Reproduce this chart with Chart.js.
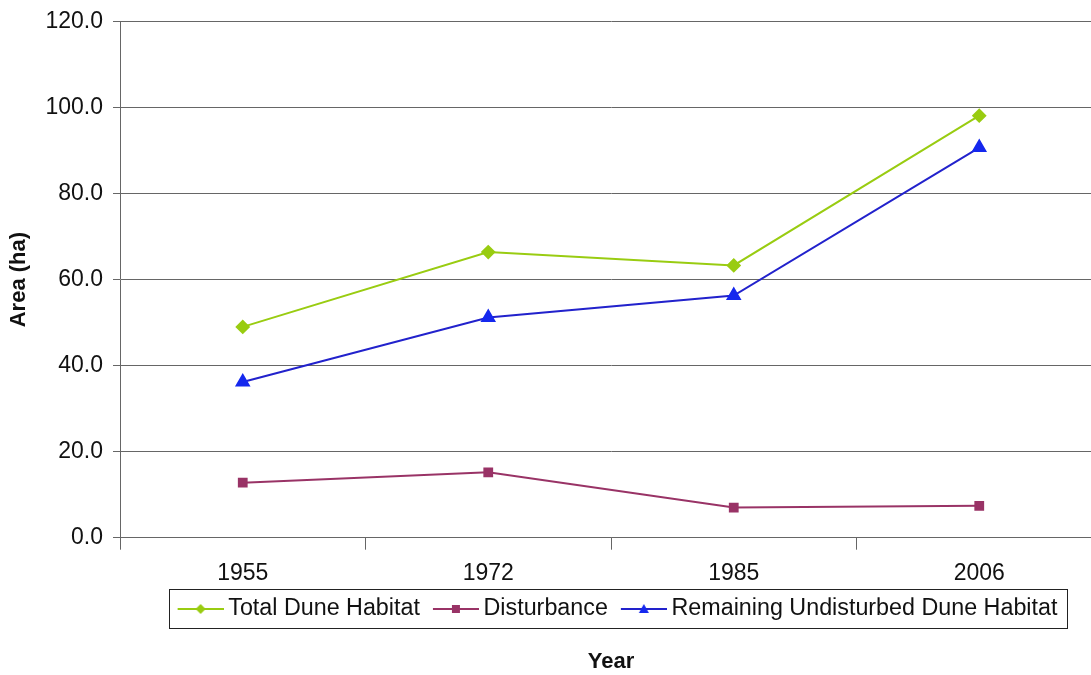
<!DOCTYPE html>
<html>
<head>
<meta charset="utf-8">
<script src="https://cdn.jsdelivr.net/npm/chart.js@4.4.1/dist/chart.umd.min.js"></script>
<style>
  html, body { margin: 0; padding: 0; background: #fff; overflow: hidden; }
  #wrap { width: 1111px; height: 675px; }
</style>
</head>
<body>
<div id="wrap"><canvas id="myChart"></canvas></div>
<script>
const years = ['1955', '1972', '1985', '2006'];
const totalDune = [49.0, 66.4, 63.3, 98.1];
const disturbance = [12.8, 15.2, 7.0, 7.4];
const remaining = [36.2, 51.2, 56.3, 90.7];
const seriesNames = ['Total Dune Habitat', 'Disturbance', 'Remaining Undisturbed Dune Habitat'];

const green = '#99cc11';
const plum = '#993366';
const blueLine = '#2222cc';
const blueMark = '#1528ee';
const font = 'Liberation Sans, Arial, sans-serif';

// legend icons: line with the marker on it, some empty room on the left
function makeIcon(color, mark, shape) {
  const c = document.createElement('canvas');
  c.width = 66; c.height = 14;
  const g = c.getContext('2d');
  const x0 = 20, cx = x0 + 23;
  g.strokeStyle = color; g.lineWidth = 2;
  g.beginPath(); g.moveTo(x0, 7); g.lineTo(x0 + 46, 7); g.stroke();
  g.fillStyle = mark;
  g.beginPath();
  if (shape === 'diamond') {
    g.moveTo(cx, 2); g.lineTo(cx + 5, 7); g.lineTo(cx, 12); g.lineTo(cx - 5, 7);
  } else if (shape === 'square') {
    g.rect(cx - 4, 3, 8, 8);
  } else {
    g.moveTo(cx, 2); g.lineTo(cx + 5, 11); g.lineTo(cx - 5, 11);
  }
  g.closePath(); g.fill();
  return c;
}
const icons = [
  makeIcon(green, green, 'diamond'),
  makeIcon(plum, plum, 'square'),
  makeIcon(blueLine, blueMark, 'triangle')
];

const legendBox = {
  id: 'legendBox',
  afterDraw(chart) {
    const hb = chart.legend.legendHitBoxes;
    if (!hb || !hb.length) return;
    const ctx = chart.ctx;
    const l = Math.min(...hb.map(b => b.left)) + 4;
    const r = Math.max(...hb.map(b => b.left + b.width)) + 9;
    const t = hb[0].top - 8;
    const b = hb[0].top + hb[0].height + 8;
    ctx.save();
    ctx.strokeStyle = '#222';
    ctx.lineWidth = 1;
    ctx.strokeRect(Math.round(l) + 0.5, Math.round(t) + 0.5, Math.round(r - l), Math.round(b - t));
    ctx.restore();
  }
};

const ctx = document.getElementById('myChart');
new Chart(ctx, {
  type: 'line',
  data: {
    labels: years,
    datasets: [{
      label: seriesNames[0],
      data: totalDune,
      borderColor: green,
      backgroundColor: green,
      borderWidth: 2,
      pointStyle: 'rectRot',
      pointRadius: 6,
      pointHoverRadius: 6
    }, {
      label: seriesNames[1],
      data: disturbance,
      borderColor: plum,
      backgroundColor: plum,
      borderWidth: 2,
      pointStyle: 'rect',
      pointRadius: 5.5,
      pointHoverRadius: 5.5
    }, {
      label: seriesNames[2],
      data: remaining,
      borderColor: blueLine,
      backgroundColor: blueMark,
      pointBorderColor: blueMark,
      borderWidth: 2,
      pointStyle: 'triangle',
      pointRadius: 7,
      pointHoverRadius: 7
    }]
  },
  options: {
    responsive: true,
    maintainAspectRatio: false,
    animation: false,
    devicePixelRatio: 1,
    layout: { padding: { left: 0, right: 1, top: 0, bottom: 0 } },
    plugins: {
      tooltip: { enabled: false },
      legend: {
        position: 'bottom',
        fullSize: false,
        labels: {
          usePointStyle: true,
          pointStyleWidth: 52,
          padding: 0,
          color: '#111',
          font: { family: font, size: 23.3 },
          generateLabels(chart) {
            return chart.data.datasets.map((ds, i) => ({
              text: ds.label,
              pointStyle: icons[i],
              datasetIndex: i,
              fillStyle: ds.borderColor,
              strokeStyle: ds.borderColor,
              lineWidth: 0,
              hidden: false,
              fontColor: '#111'
            }));
          }
        }
      },
      title: {
        display: true,
        position: 'bottom',
        fullSize: false,
        text: 'Year',
        color: '#111',
        font: { family: font, size: 22, weight: 'bold' },
        padding: { top: 18, bottom: 0 }
      }
    },
    scales: {
      x: {
        offset: true,
        grid: {
          offset: true,
          drawOnChartArea: false,
          tickLength: 12,
          color: '#666'
        },
        border: { color: '#666', width: 1 },
        ticks: {
          color: '#111',
          padding: 10,
          font: { family: font, size: 23 }
        }
      },
      y: {
        min: 0,
        max: 120,
        afterFit(scale) { scale.width = 120; },
        grid: { color: '#666', tickLength: 7 },
        border: { color: '#666', width: 1 },
        ticks: {
          stepSize: 20,
          padding: 10,
          color: '#111',
          font: { family: font, size: 23, lineHeight: 1.0 },
          callback: v => v.toFixed(1)
        },
        title: {
          display: true,
          text: 'Area (ha)',
          color: '#111',
          padding: { top: 6, bottom: 0 },
          font: { family: font, size: 22, weight: 'bold' }
        }
      }
    }
  },
  plugins: [legendBox]
});
</script>
</body>
</html>
